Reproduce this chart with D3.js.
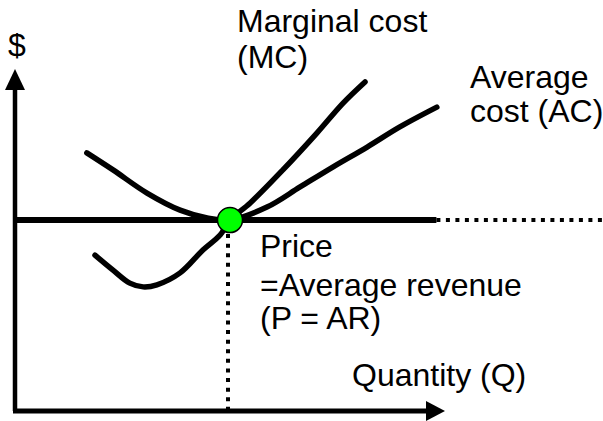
<!DOCTYPE html>
<head>
  <meta charset="utf-8">
  <script src="https://d3js.org/d3.v7.min.js"></script>
  <style>
    body { margin:0; background:#fff; }
    text { font-family: "Liberation Sans", Arial, sans-serif; font-size: 32px; fill: #000; }
  </style>
</head>
<body>
  <div class="body"></div>
  <script>
    // curve readings (quantity, cost), axes run 0..100
    const mcQ    = [18.6, 22.8, 26.7, 29.8, 33.0, 38.4, 43.7, 47.7, 50.0, 54.7, 62.3, 70.2, 76.3, 81.4];
    const mcCost = [45.7, 41.3, 37.5, 36.4, 37.0, 40.5, 47.2, 51.6, 56.0, 61.0, 70.7, 81.5, 90.3, 96.5];
    const acQ    = [16.7, 22.8, 30.7, 38.4, 44.7, 50.0, 58.6, 66.3, 74.0, 81.9, 89.5, 98.1];
    const acCost = [75.7, 70.7, 63.9, 58.9, 56.6, 56.0, 59.8, 65.7, 71.6, 77.4, 83.3, 89.1];
    const price = 56;
    const eqQ = 50;
    const priceSolidEnd = 98;
    const priceDottedEnd = 137;

    const width = 603, height = 421;

    const x = d3.scaleLinear().domain([0, 100]).range([15, 445]);
    const y = d3.scaleLinear().domain([0, 100]).range([411, 70]);

    const svg = d3.select(".body").append("svg")
      .attr("width", width)
      .attr("height", height);

    const mc = mcQ.map((q, i) => [q, mcCost[i]]);
    const ac = acQ.map((q, i) => [q, acCost[i]]);

    const line = d3.line()
      .x(d => x(d[0]))
      .y(d => y(d[1]))
      .curve(d3.curveCatmullRom);

    // axes
    svg.append("line")
      .attr("x1", x(0)).attr("y1", y(0))
      .attr("x2", x(0)).attr("y2", y(100) + 15)
      .attr("stroke", "#000").attr("stroke-width", 4.5);
    svg.append("line")
      .attr("x1", x(0) - 2).attr("y1", y(0))
      .attr("x2", x(100) - 15).attr("y2", y(0))
      .attr("stroke", "#000").attr("stroke-width", 5);

    svg.append("path")
      .attr("d", `M${x(0)},${y(100) - 1}L${x(0) - 10},${y(100) + 20}L${x(0) + 10},${y(100) + 20}Z`)
      .attr("fill", "#000");
    svg.append("path")
      .attr("d", `M${x(100)},${y(0)}L${x(100) - 19},${y(0) - 10}L${x(100) - 19},${y(0) + 10}Z`)
      .attr("fill", "#000");

    // price = AR line
    svg.append("line")
      .attr("x1", x(0)).attr("y1", y(price))
      .attr("x2", x(priceSolidEnd)).attr("y2", y(price))
      .attr("stroke", "#000").attr("stroke-width", 6);
    svg.append("line")
      .attr("x1", x(priceSolidEnd)).attr("y1", y(price))
      .attr("x2", x(priceDottedEnd)).attr("y2", y(price))
      .attr("stroke", "#000").attr("stroke-width", 4)
      .attr("stroke-dasharray", "4 5.5");

    // dotted drop to quantity axis
    svg.append("line")
      .attr("x1", x(eqQ) - 2).attr("y1", y(price) + 14)
      .attr("x2", x(eqQ) - 2).attr("y2", y(0))
      .attr("stroke", "#000").attr("stroke-width", 4)
      .attr("stroke-dasharray", "4 5.6");

    // cost curves
    [ac, mc].forEach(function(d) {
      svg.append("path")
        .datum(d)
        .attr("d", line)
        .attr("fill", "none")
        .attr("stroke", "#000")
        .attr("stroke-width", 5.5)
        .attr("stroke-linecap", "round")
        .attr("stroke-linejoin", "round");
    });

    svg.append("circle")
      .attr("cx", x(eqQ)).attr("cy", y(price))
      .attr("r", 12.5)
      .attr("fill", "#00ff00")
      .attr("stroke", "#000")
      .attr("stroke-width", 1.5);

    // labels
    const labels = [
      {t: "$", x: 8, y: 56},
      {t: "Marginal cost", x: 237, y: 32},
      {t: "(MC)", x: 237, y: 68},
      {t: "Average", x: 470, y: 88},
      {t: "cost (AC)", x: 470, y: 122},
      {t: "Price", x: 260, y: 257},
      {t: "=Average revenue", x: 260, y: 296},
      {t: "(P = AR)", x: 260, y: 329},
      {t: "Quantity (Q)", x: 352, y: 386}
    ];
    svg.selectAll(".lbl")
      .data(labels)
      .enter().append("text")
      .attr("class", "lbl")
      .attr("x", d => d.x)
      .attr("y", d => d.y)
      .text(d => d.t);
  </script>
</body>
